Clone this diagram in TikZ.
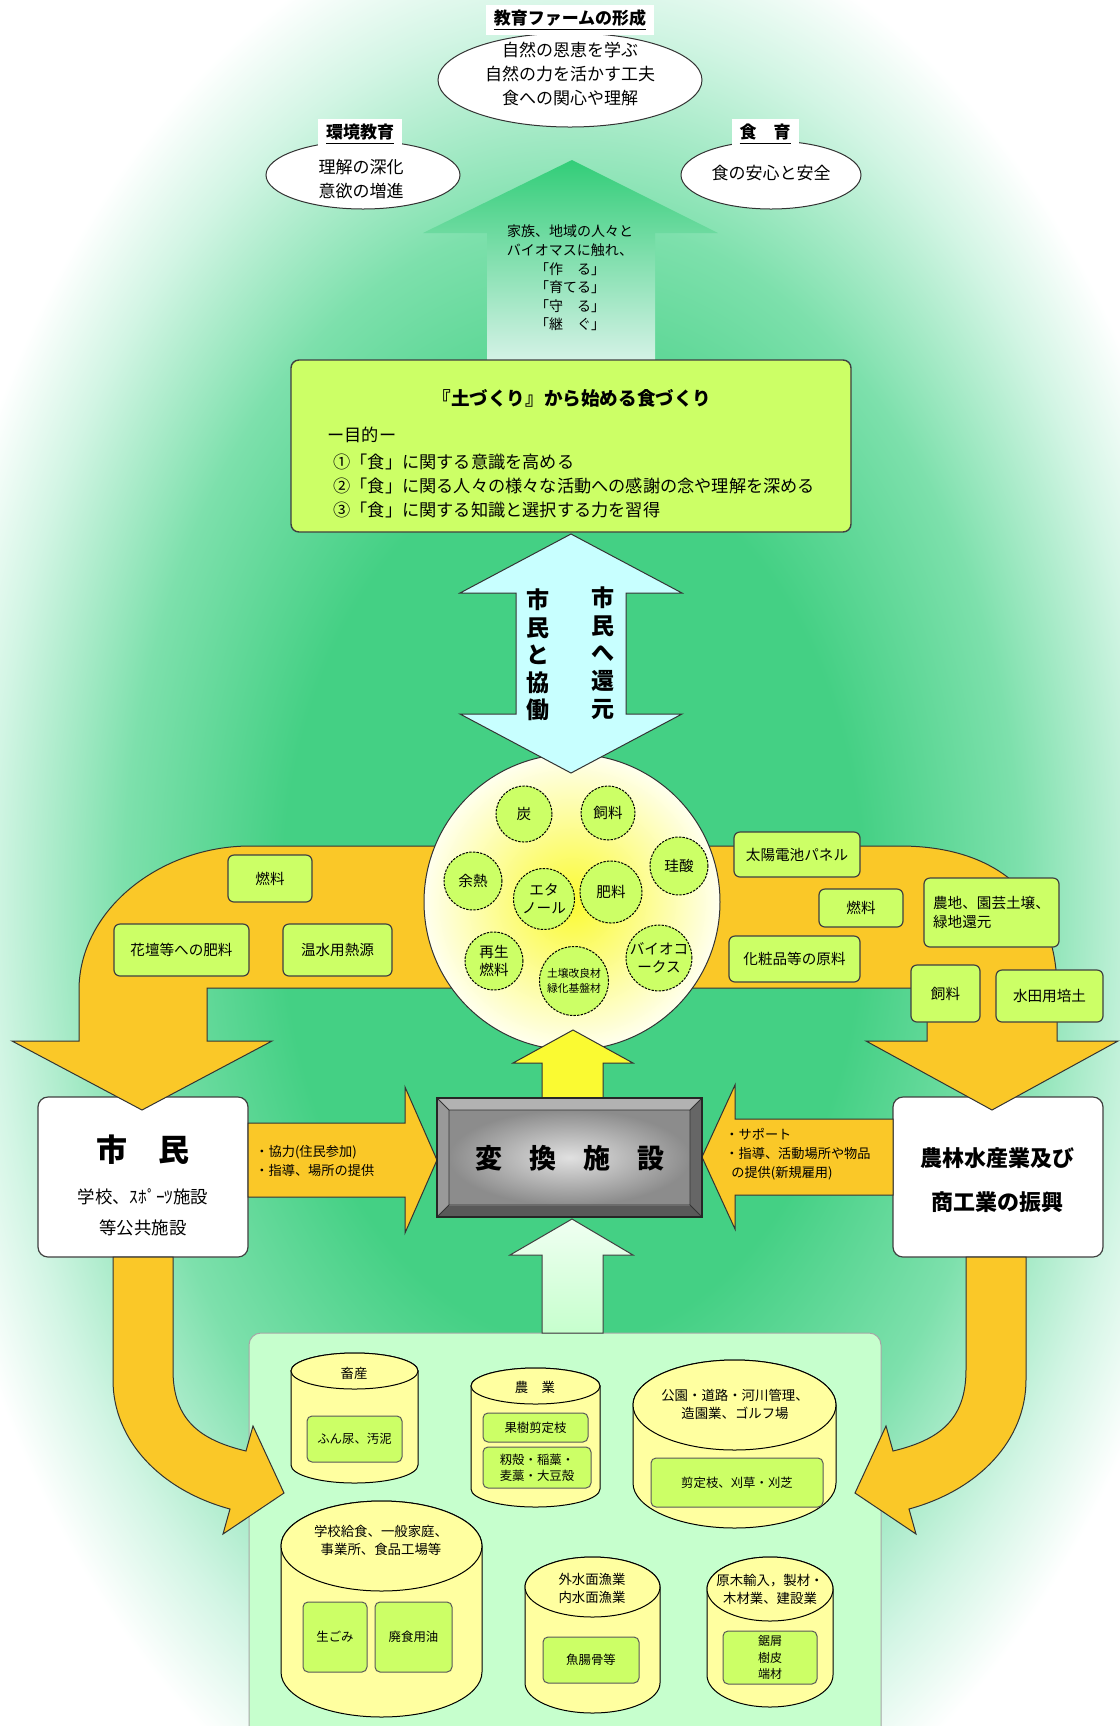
\documentclass[tikz,border=0pt]{standalone}
\usepackage{fontspec}
\setmainfont{Noto Sans CJK JP}
\usetikzlibrary{shapes.geometric,calc}
\definecolor{limeG}{RGB}{204,255,102}
\definecolor{orng}{RGB}{250,200,40}
\definecolor{cylY}{RGB}{255,255,160}
\definecolor{botG}{RGB}{198,255,205}
\definecolor{cyanA}{RGB}{200,255,255}
\definecolor{bgA}{RGB}{68,208,132}
\definecolor{bgB}{RGB}{125,224,172}
\definecolor{bgC}{RGB}{210,245,228}
\definecolor{arTop}{RGB}{50,205,120}
\definecolor{arMid}{RGB}{120,222,168}
\definecolor{arBot}{RGB}{212,242,230}
\definecolor{yelA}{RGB}{250,250,50}
\pgfdeclareradialshading{bgglow}{\pgfpoint{0bp}{0bp}}{color(0bp)=(bgA); color(11bp)=(bgA); color(17bp)=(bgB); color(22bp)=(bgC); color(25bp)=(white); color(50bp)=(white)}
\newcommand\cyl[5]{%
  \filldraw[cylst] (#1-#4,#2) -- (#1-#4,#3) arc[start angle=180,end angle=0,x radius=#4,y radius=#5] -- (#1+#4,#2) arc[start angle=0,end angle=-180,x radius=#4,y radius=#5] -- cycle;
  \filldraw[cylst] (#1,#2) ellipse[x radius=#4,y radius=#5];}
\begin{document}
\begin{tikzpicture}[x=0.5pt,y=-0.5pt,
  ell/.style={ellipse, draw=black!80, fill=white, line width=0.5pt, inner sep=0},
  ttl/.style={fill=white, inner xsep=4pt, inner ysep=2.5pt, font=\fontsize{8.5}{10}\selectfont\bfseries},
  etxt/.style={align=center, font=\fontsize{8.5}{11.8}\selectfont},
  lbox/.style={rectangle, rounded corners=3pt, fill=limeG, draw=black!75, line width=0.6pt, inner sep=0, align=center, font=\fontsize{7.3}{9.5}\selectfont},
  sc/.style={circle, fill=limeG, draw=black, line width=0.5pt, dash pattern=on 1.2pt off 0.6pt, inner sep=0, align=center, font=\fontsize{7.3}{9.2}\selectfont},
  orngshape/.style={fill=orng, draw=black!80, line width=0.5pt},
  wbox/.style={rectangle, rounded corners=5pt, fill=white, draw=black!75, line width=0.6pt, inner sep=0},
  ibox/.style={rectangle, rounded corners=2.5pt, fill=limeG, draw=black!65, line width=0.5pt, inner sep=0, align=center, font=\fontsize{6.2}{8.2}\selectfont},
  cylst/.style={fill=cylY, draw=black, line width=0.5pt},
  clab/.style={align=center, font=\fontsize{6.7}{9}\selectfont},
  lbltxt/.style={align=left, font=\fontsize{6.6}{9.5}\selectfont, inner sep=0},
  dbl/.style={fill=cyanA, draw=black!80, line width=0.5pt},
  vtxt/.style={align=center, font=\fontsize{11.5}{13.8}\selectfont\bfseries, inner sep=0}]
\useasboundingbox (0,0) rectangle (1120,1726);
\fill[white] (0,0) rectangle (1120,1726);
\shade[shading=bgglow] (572,900) ellipse [x radius=660, y radius=1000];

% top ellipses
\node[ell, minimum width=132pt, minimum height=47pt] (farm) at (570,80) {};
\node[etxt] (farmtxt) at (570,74) {自然の恩恵を学ぶ\\自然の力を活かす工夫\\食への関心や理解};
\node[ttl] (farmttl) at (570,20) {\underline{教育ファームの形成}};
\node[ell, minimum width=97pt, minimum height=34pt] (env) at (363,175) {};
\node[etxt] (envtxt) at (361,179) {理解の深化\\意欲の増進};
\node[ttl] (envttl) at (360,134) {\underline{環境教育}};
\node[ell, minimum width=90pt, minimum height=34pt] (food) at (771,175) {};
\node[etxt] (foodtxt) at (771,173) {食の安心と安全};
\node[ttl] (foodttl) at (765,134) {\underline{食　育}};

% green up arrow
\shade[top color=arTop, middle color=arMid, bottom color=arBot] (572,160) -- (718,233) -- (655,233) -- (655,360) -- (487,360) -- (487,233) -- (423,233) -- cycle;
\node[align=center, font=\fontsize{7}{9.3}\selectfont] (uptxt) at (570,278) {家族、地域の人々と\\バイオマスに触れ、\\「作　る」\\「育てる」\\「守　る」\\「継　ぐ」};

% main box
\node[rectangle, rounded corners=4pt, fill=limeG, draw=black!75, line width=0.7pt, minimum width=280pt, minimum height=86pt] (mainbox) at (571,446) {};
\node[font=\fontsize{9.3}{11}\selectfont\bfseries] (maintitle) at (572,398) {『土づくり』から始める食づくり};
\node[anchor=west, inner sep=0, font=\fontsize{8.6}{11}\selectfont] (mokuteki) at (327,435) {ー目的ー};
\node[anchor=west, inner sep=0, align=left, font=\fontsize{8.6}{11.9}\selectfont] (items) at (333,486) {①「食」に関する意識を高める\\②「食」に関る人々の様々な活動への感謝の念や理解を深める\\③「食」に関する知識と選択する力を習得};

% side boxes (drawn before the bands so the heads lie over them)
\node[wbox, minimum width=105pt, minimum height=80pt] (shimin) at (143,1177) {};
\node[wbox, minimum width=105pt, minimum height=80pt] (sangyo) at (998,1177) {};

% orange bands
\draw[orngshape] (500,846) -- (250,846) .. controls (160,846) and (79,910) .. (79,990) -- (79,1041) -- (12,1041) -- (142,1110) -- (272,1041) -- (207,1041) -- (207,988) -- (500,988) -- cycle;
\draw[orngshape] (640,846) -- (900,846) .. controls (1000,846) and (1057,900) .. (1057,990) -- (1057,1041) -- (1118,1041) -- (992,1110) -- (866,1041) -- (927,1041) -- (927,988) -- (640,988) -- cycle;

% conversion circle
\node[circle, draw=black!80, line width=0.5pt, inner color=yelA, outer color={rgb,255:red,255;green,255;blue,238}, minimum size=148pt, inner sep=0] (conv) at (572,902) {};

% double arrow
\draw[dbl] (571,534) -- (682,593) -- (626,593) -- (626,714) -- (682,714) -- (571,773) -- (460,714) -- (516,714) -- (516,593) -- (460,593) -- cycle;
\node[vtxt] (kyodo) at (538,655) {市\\民\\と\\協\\働};
\node[vtxt] (kangen) at (603,653) {市\\民\\へ\\還\\元};

% small circles
\node[sc, minimum size=28pt] (sumi) at (524,814) {炭};
\node[sc, minimum size=27pt] (shiryo) at (608,813) {飼料};
\node[sc, minimum size=29pt] (keisan) at (679,866) {珪酸};
\node[sc, minimum size=29pt] (yonetsu) at (473,881) {余熱};
\node[sc, minimum size=30.5pt] (ethanol) at (544,899) {エタ\\ノール};
\node[sc, minimum size=31pt] (hiryo) at (611,892) {肥料};
\node[sc, minimum size=29pt] (saisei) at (494,961) {再生\\燃料};
\node[sc, minimum size=34.5pt, font=\fontsize{5.4}{7.6}\selectfont] (dojo) at (574,981) {土壌改良材\\緑化基盤材};
\node[sc, minimum size=31pt] (coke) at (659,958) {バイオコ\\ークス};

% yellow up arrow
\draw[fill=yelA, draw=black!80, line width=0.5pt] (573,1030) -- (633,1063) -- (603,1063) -- (603,1098) -- (542,1098) -- (542,1063) -- (513,1063) -- cycle;

% band boxes
\node[lbox, minimum width=42pt, minimum height=23.5pt] (nenryoL) at (270,878.5) {燃料};
\node[lbox, minimum width=67.5pt, minimum height=26pt] (kadan) at (181.5,950) {花壇等への肥料};
\node[lbox, minimum width=54.5pt, minimum height=26pt] (onsui) at (337.5,950) {温水用熱源};
\node[lbox, minimum width=63pt, minimum height=22.5pt] (solar) at (797,854.5) {太陽電池パネル};
\node[lbox, minimum width=42pt, minimum height=19pt] (nenryoR) at (861,908) {燃料};
\node[lbox, minimum width=67.5pt, minimum height=34.5pt, align=left] (nouchi) at (991.5,912.5) {農地、園芸土壌、\\緑地還元};
\node[lbox, minimum width=65.5pt, minimum height=23pt] (cosme) at (794.5,959) {化粧品等の原料};
\node[lbox, minimum width=34.5pt, minimum height=28.5pt] (shiryoR) at (945.5,993.5) {飼料};
\node[lbox, minimum width=53.5pt, minimum height=26pt] (suiden) at (1049.5,996) {水田用培土};

% horizontal arrows
\draw[orngshape] (248,1123) -- (405,1123) -- (405,1087) -- (437,1160) -- (405,1233) -- (405,1197) -- (248,1197) -- cycle;
\draw[orngshape] (893,1119) -- (735,1119) -- (735,1085) -- (702,1157) -- (735,1229) -- (735,1195) -- (893,1195) -- cycle;
\node[lbltxt, anchor=west] (kyoryoku) at (255,1161) {・協力(住民参加)\\・指導、場所の提供};
\node[lbltxt, anchor=west] (support) at (725,1154) {・サポート\\・指導、活動場所や物品\\\ \ の提供(新規雇用)};

% texts in side boxes
\node[font=\fontsize{15.5}{17}\selectfont\bfseries] (shimintxt) at (143,1150) {市　民};
\node[align=center, font=\fontsize{8.7}{15.5}\selectfont] (shiminsub) at (143,1212) {学校、ｽﾎﾟｰﾂ施設\\等公共施設};
\node[align=center, font=\fontsize{11}{22}\selectfont\bfseries] (sangyotxt) at (997,1180) {農林水産業及び\\商工業の振興};

% conversion facility
\fill[black!45] (437,1098) rectangle (702,1217);
\fill[black!30] (437,1098) -- (702,1098) -- (690,1110) -- (449,1110) -- cycle;
\fill[black!40] (437,1098) -- (449,1110) -- (449,1205) -- (437,1217) -- cycle;
\fill[black!60] (702,1098) -- (690,1110) -- (690,1205) -- (702,1217) -- cycle;
\fill[black!65] (437,1217) -- (449,1205) -- (690,1205) -- (702,1217) -- cycle;
\shade[inner color=black!12, outer color=black!45] (449,1110) rectangle (690,1205);
\draw[black!80, line width=0.4pt] (449,1110) rectangle (690,1205) (437,1098) -- (449,1110) (702,1098) -- (690,1110) (437,1217) -- (449,1205) (702,1217) -- (690,1205);
\node[draw=black!85, line width=0.7pt, minimum width=132.5pt, minimum height=59.5pt, inner sep=0] (henkan) at (569.5,1157.5) {};
\node[font=\fontsize{13.5}{15}\selectfont\bfseries] (henkantxt) at (569.5,1158) {変　換　施　設};

% bottom source box
\node[rectangle, rounded corners=6pt, fill=botG, draw=black!35, line width=0.5pt, minimum width=316pt, minimum height=213.5pt, inner sep=0] (sources) at (565,1546.5) {};
\shade[top color={rgb,255:red,240;green,255;blue,242}, bottom color=botG, draw=black!75, line width=0.5pt] (572,1219) -- (633,1255) -- (603,1255) -- (603,1333) -- (542,1333) -- (542,1255) -- (510,1255) -- cycle;

% cylinders
\cyl{354.5}{1371}{1465}{63.5}{18}
\cyl{535.5}{1386}{1489}{64.5}{18}
\cyl{734.5}{1405}{1483}{101.5}{45}
\cyl{381.5}{1546}{1672}{100.5}{45}
\cyl{592.5}{1587}{1683}{67.5}{30}
\cyl{770}{1589}{1675}{63}{32}
\node[clab] (chikusan) at (354,1373) {畜産};
\node[clab] (nogyo) at (535,1387) {農　業};
\node[clab] (koen) at (735,1404) {公園・道路・河川管理、\\造園業、ゴルフ場};
\node[clab] (gakko) at (381,1540) {学校給食、一般家庭、\\事業所、食品工場等};
\node[clab] (gaisui) at (592,1588) {外水面漁業\\内水面漁業};
\node[clab] (genboku) at (770,1589) {原木輸入，製材・\\木材業、建設業};
\node[ibox, minimum width=47.5pt, minimum height=23pt] (funnyo) at (354.5,1439) {ふん尿、汚泥};
\node[ibox, minimum width=52.5pt, minimum height=14.5pt] (kaju) at (535.5,1427.5) {果樹剪定枝};
\node[ibox, minimum width=54pt, minimum height=20.5pt] (momi) at (537,1467.5) {籾殻・稲藁・\\麦藁・大豆殻};
\node[ibox, minimum width=86pt, minimum height=24.5pt] (sentei) at (737,1482.5) {剪定枝、刈草・刈芝};
\node[ibox, minimum width=32pt, minimum height=35pt] (namagomi) at (335,1637) {生ごみ};
\node[ibox, minimum width=38.5pt, minimum height=35pt] (haishoku) at (413.5,1637) {廃食用油};
\node[ibox, minimum width=48pt, minimum height=23pt] (gyocho) at (591,1660) {魚腸骨等};
\node[ibox, minimum width=47pt, minimum height=26.5pt, font=\fontsize{6}{8.2}\selectfont] (ogakuzu) at (770,1657.5) {鋸屑\\樹皮\\端材};

% curved arrows into the source box
\draw[orngshape] (113,1257) -- (173,1257) -- (173,1370) .. controls (173,1420) and (200,1440) .. (246,1451) -- (253,1426) -- (284,1493) -- (223,1534) -- (230,1509) .. controls (160,1490) and (113,1440) .. (113,1380) -- cycle;
\draw[orngshape] (1026,1257) -- (966,1257) -- (966,1370) .. controls (966,1420) and (939,1440) .. (893,1451) -- (886,1426) -- (855,1493) -- (916,1534) -- (909,1509) .. controls (979,1490) and (1026,1440) .. (1026,1380) -- cycle;
\end{tikzpicture}
\end{document}
